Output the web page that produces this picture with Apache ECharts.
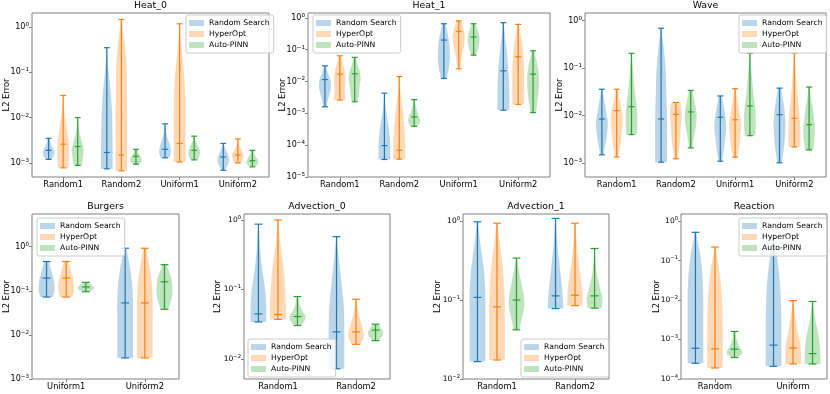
<!DOCTYPE html>
<html>
<head>
<meta charset="utf-8">
<script src="https://cdn.jsdelivr.net/npm/echarts@6/dist/echarts.min.js"></script>
<style>
html, body { margin: 0; padding: 0; background: #fff; }
#chart { width: 830px; height: 394px; }
</style>
</head>
<body>
<div id="chart"></div>
<script>
// methods / colours
var methods = ['Random Search', 'HyperOpt', 'Auto-PINN'];
var colors = ['#1f77b4', '#ff7f0e', '#2ca02c'];
var fills = ['rgba(31,119,180,0.3)', 'rgba(255,127,14,0.3)', 'rgba(44,160,44,0.3)'];
var offsets = [-0.25, 0, 0.25];

// each stats entry: [min, median, max] per group; one row per method
// each shape entry: relative width of the violin from min (first) to max (last)
var heat0Cats = ['Random1', 'Random2', 'Uniform1', 'Uniform2'];
var heat0Stats = [
  [[0.0012, 0.0019, 0.0035], [0.00074, 0.0017, 0.35], [0.0013, 0.002, 0.0073], [0.00069, 0.00135, 0.0027]],
  [[0.00078, 0.0026, 0.031], [0.00067, 0.0015, 1.47], [0.00105, 0.0027, 1.18], [0.001, 0.0015, 0.0034]],
  [[0.00088, 0.0023, 0.01], [0.00094, 0.0014, 0.002], [0.00117, 0.0019, 0.0039], [0.00082, 0.00112, 0.0019]]
];
var heat0Shape = [
  [[0.5, 0.9, 1, 0.8, 0.5, 0.3, 0.2], [1, 1, 0.95, 0.85, 0.6, 0.25, 0.05], [0.8, 1, 0.9, 0.6, 0.3, 0.15, 0.05], [0.3, 0.7, 1, 0.9, 0.6, 0.3, 0.1]],
  [[0.9, 1, 1, 0.7, 0.4, 0.15, 0.05], [1, 1, 1, 0.95, 0.9, 0.6, 0.1], [1, 1, 1, 0.95, 0.7, 0.3, 0.05], [0.6, 0.9, 1, 0.7, 0.35, 0.15, 0.05]],
  [[0.7, 0.9, 1, 0.7, 0.35, 0.15, 0.05], [0.5, 0.9, 1, 0.8, 0.5, 0.3, 0.2], [0.6, 0.9, 1, 0.8, 0.5, 0.2, 0.1], [0.5, 0.9, 1, 0.8, 0.5, 0.3, 0.15]]
];

var heat1Cats = ['Random1', 'Random2', 'Uniform1', 'Uniform2'];
var heat1Stats = [
  [[0.0016, 0.0115, 0.031], [0.0000355, 0.000097, 0.0043], [0.0124, 0.2, 0.65], [0.00125, 0.0215, 0.7]],
  [[0.0026, 0.017, 0.064], [0.0000363, 0.000069, 0.0143], [0.025, 0.37, 0.8], [0.0019, 0.06, 0.62]],
  [[0.0023, 0.0174, 0.057], [0.00039, 0.00077, 0.0027], [0.067, 0.25, 0.65], [0.00105, 0.017, 0.092]]
];
var heat1Shape = [
  [[0.3, 0.5, 0.8, 1, 0.9, 0.5, 0.2], [1, 1, 0.9, 0.7, 0.4, 0.15, 0.05], [0.5, 0.8, 1, 1, 0.9, 0.6, 0.3], [1, 1, 0.95, 0.8, 0.6, 0.3, 0.1]],
  [[1, 0.9, 0.9, 1, 0.8, 0.5, 0.2], [1, 1, 0.9, 0.7, 0.45, 0.2, 0.05], [0.2, 0.4, 0.6, 0.9, 1, 0.8, 0.4], [1, 1, 1, 0.95, 0.8, 0.5, 0.15]],
  [[0.5, 0.7, 0.8, 1, 0.9, 0.5, 0.2], [0.6, 1, 0.9, 0.6, 0.4, 0.2, 0.1], [0.4, 0.7, 0.9, 1, 0.9, 0.6, 0.3], [0.5, 0.7, 0.9, 1, 0.9, 0.6, 0.2]]
];

var waveCats = ['Random1', 'Random2', 'Uniform1', 'Uniform2'];
var waveStats = [
  [[0.0015, 0.0085, 0.036], [0.00105, 0.0085, 0.69], [0.0011, 0.0093, 0.026], [0.00102, 0.0105, 0.038]],
  [[0.00135, 0.0128, 0.036], [0.00124, 0.0107, 0.019], [0.00134, 0.0082, 0.037], [0.0022, 0.0088, 0.205]],
  [[0.004, 0.0155, 0.205], [0.0021, 0.012, 0.034], [0.0038, 0.016, 0.205], [0.0019, 0.0065, 0.04]]
];
var waveShape = [
  [[0.3, 0.6, 0.9, 1, 0.7, 0.4, 0.1], [1, 1, 1, 0.9, 0.8, 0.5, 0.1], [0.3, 0.6, 0.8, 1, 0.9, 0.6, 0.3], [0.4, 0.7, 0.9, 1, 0.9, 0.6, 0.3]],
  [[0.3, 0.6, 0.8, 1, 0.9, 0.5, 0.2], [0.3, 0.5, 0.7, 0.8, 0.9, 1, 0.8], [0.4, 0.7, 0.9, 1, 0.7, 0.4, 0.1], [1, 1, 0.9, 0.6, 0.4, 0.2, 0.05]],
  [[0.9, 1, 0.9, 0.6, 0.4, 0.2, 0.05], [0.3, 0.5, 0.8, 1, 0.9, 0.6, 0.3], [0.9, 1, 0.9, 0.6, 0.4, 0.2, 0.05], [0.7, 0.9, 1, 0.8, 0.6, 0.3, 0.1]]
];

var burgersCats = ['Uniform1', 'Uniform2'];
var burgersStats = [
  [[0.072, 0.194, 0.46], [0.003, 0.053, 0.92]],
  [[0.072, 0.194, 0.46], [0.003, 0.053, 0.92]],
  [[0.095, 0.122, 0.155], [0.038, 0.16, 0.39]]
];
var burgersShape = [
  [[0.8, 1, 1, 0.9, 0.7, 0.5, 0.3], [1, 1, 1, 1, 0.9, 0.6, 0.2]],
  [[0.8, 1, 1, 0.9, 0.7, 0.5, 0.3], [1, 1, 1, 1, 0.9, 0.6, 0.2]],
  [[0.4, 0.8, 1, 1, 0.8, 0.5, 0.3], [0.5, 0.8, 1, 1, 0.9, 0.6, 0.3]]
];

var adv0Cats = ['Random1', 'Random2'];
var adv0Stats = [
  [[0.034, 0.0445, 0.87], [0.0072, 0.0245, 0.575]],
  [[0.037, 0.0435, 1.0], [0.0162, 0.0245, 0.072]],
  [[0.0302, 0.0407, 0.079], [0.0183, 0.026, 0.0316]]
];
var adv0Shape = [
  [[1, 1, 0.85, 0.55, 0.3, 0.15, 0.05], [1, 1, 1, 0.9, 0.6, 0.3, 0.05]],
  [[1, 1, 0.9, 0.75, 0.45, 0.2, 0.05], [0.6, 1, 0.9, 0.6, 0.35, 0.2, 0.1]],
  [[0.5, 0.9, 1, 0.6, 0.35, 0.2, 0.1], [0.4, 0.7, 0.9, 1, 0.8, 0.6, 0.4]]
];

var adv1Cats = ['Random1', 'Random2'];
var adv1Stats = [
  [[0.0166, 0.108, 0.98], [0.078, 0.113, 1.08]],
  [[0.0174, 0.082, 0.94], [0.085, 0.115, 0.94]],
  [[0.042, 0.1, 0.34], [0.079, 0.113, 0.45]]
];
var adv1Shape = [
  [[1, 1, 1, 1, 0.8, 0.4, 0.1], [1, 0.9, 0.7, 0.5, 0.3, 0.15, 0.05]],
  [[1, 1, 1, 0.95, 0.75, 0.4, 0.1], [1, 0.95, 0.75, 0.5, 0.3, 0.15, 0.05]],
  [[0.4, 0.7, 1, 0.9, 0.6, 0.3, 0.1], [0.9, 1, 0.7, 0.4, 0.2, 0.1, 0.05]]
];

var reactionCats = ['Random', 'Uniform'];
var reactionStats = [
  [[0.00025, 0.0006, 0.52], [0.00021, 0.00072, 0.37]],
  [[0.00019, 0.00058, 0.22], [0.00024, 0.00061, 0.0097]],
  [[0.00035, 0.00057, 0.0016], [0.00024, 0.00044, 0.0092]]
];
var reactionShape = [
  [[1, 1, 1, 1, 0.9, 0.6, 0.1], [1, 1, 1, 0.95, 0.8, 0.5, 0.1]],
  [[1, 1, 1, 0.95, 0.8, 0.5, 0.1], [1, 1, 0.9, 0.6, 0.4, 0.2, 0.05]],
  [[0.4, 1, 0.8, 0.5, 0.3, 0.2, 0.1], [1, 1, 0.9, 0.7, 0.4, 0.2, 0.05]]
];

// panel layout: box = [left, top, right, bottom], yExp = log10 range of the y axis
var panels = [
  { title: 'Heat_0', cats: heat0Cats, stats: heat0Stats, shape: heat0Shape, box: [32, 13, 269, 177], yExp: [-3.31, 0.31], legend: [186, 15], nameGap: 21, font: 8 },
  { title: 'Heat_1', cats: heat1Cats, stats: heat1Stats, shape: heat1Shape, box: [308, 13, 550, 177], yExp: [-5, 0.15], legend: [313, 15], nameGap: 21, font: 8 },
  { title: 'Wave', cats: waveCats, stats: waveStats, shape: waveShape, box: [585, 13, 826, 177], yExp: [-3.29, 0.16], legend: [739, 15], nameGap: 21, font: 8 },
  { title: 'Burgers', cats: burgersCats, stats: burgersStats, shape: burgersShape, box: [32, 214, 179, 379], yExp: [-3, 0.74], legend: [37, 218], nameGap: 21, font: 8 },
  { title: 'Advection_0', cats: adv0Cats, stats: adv0Stats, shape: adv0Shape, box: [244, 214, 390, 379], yExp: [-2.29, 0.086], legend: [248, 339], nameGap: 22, font: 7.5 },
  { title: 'Advection_1', cats: adv1Cats, stats: adv1Stats, shape: adv1Shape, box: [463, 214, 609, 379], yExp: [-2, 0.09], legend: [521, 339], nameGap: 21, font: 7.5 },
  { title: 'Reaction', cats: reactionCats, stats: reactionStats, shape: reactionShape, box: [681, 214, 827, 379], yExp: [-4, 0.18], legend: [739, 218], nameGap: 20, font: 7.5 }
];

var FONT = 'DejaVu Sans';

var measureCtx = document.createElement('canvas').getContext('2d');
function textWidth(t, size) {
  measureCtx.font = size + 'px ' + FONT;
  return measureCtx.measureText(t).width;
}

// catmull-rom smoothing of a width profile -> [[t, w], ...]
function smoothProfile(p, sub) {
  var out = [], n = p.length;
  for (var i = 0; i < n - 1; i++) {
    var p0 = p[Math.max(i - 1, 0)], p1 = p[i], p2 = p[i + 1], p3 = p[Math.min(i + 2, n - 1)];
    for (var k = 0; k < sub; k++) {
      var t = k / sub, t2 = t * t, t3 = t2 * t;
      var w = 0.5 * (2 * p1 + (-p0 + p2) * t + (2 * p0 - 5 * p1 + 4 * p2 - p3) * t2 + (-p0 + 3 * p1 - 3 * p2 + p3) * t3);
      out.push([(i + t) / (n - 1), Math.max(w, 0.02)]);
    }
  }
  out.push([1, p[n - 1]]);
  return out;
}

function makeRender(panel, m) {
  return function (params, api) {
    var g = params.dataIndex;
    var x = api.value(0), vMin = api.value(1), vMed = api.value(2), vMax = api.value(3);
    var lo = Math.log10(vMin), hi = Math.log10(vMax);
    var cMin = api.coord([x, vMin]);
    var cMed = api.coord([x, vMed]);
    var cMax = api.coord([x, vMax]);
    var unit = api.coord([x + 1, vMin])[0] - cMin[0];
    var half = unit * 0.1, cap = unit * 0.05;
    var right = [], left = [];
    smoothProfile(panel.shape[m][g], 6).forEach(function (q) {
      var c = api.coord([x, Math.pow(10, lo + (hi - lo) * q[0])]);
      right.push([c[0] + q[1] * half, c[1]]);
      left.push([c[0] - q[1] * half, c[1]]);
    });
    var ls = { stroke: colors[m], lineWidth: 1.2 };
    function hline(c) {
      return { type: 'line', shape: { x1: c[0] - cap, y1: c[1], x2: c[0] + cap, y2: c[1] }, style: ls };
    }
    return {
      type: 'group',
      children: [
        { type: 'polygon', shape: { points: right.concat(left.reverse()) }, style: { fill: fills[m] } },
        { type: 'line', shape: { x1: cMin[0], y1: cMin[1], x2: cMax[0], y2: cMax[1] }, style: ls },
        hline(cMin), hline(cMed), hline(cMax)
      ]
    };
  };
}

var option = {
  animation: false,
  backgroundColor: '#fff',
  textStyle: { fontFamily: FONT },
  title: [], legend: [], grid: [], xAxis: [], yAxis: [], series: []
};

panels.forEach(function (p, i) {
  var b = p.box;
  var n = p.cats.length;
  var span = n - 1 + 0.7;
  var titleSize = 9.4;
  option.title.push({
    text: p.title,
    left: (b[0] + b[2]) / 2 - textWidth(p.title, titleSize) / 2,
    top: b[1] - 12,
    padding: 0,
    textStyle: { fontFamily: FONT, fontSize: titleSize, fontWeight: 'normal', color: '#000' }
  });
  option.grid.push({
    left: b[0], top: b[1], width: b[2] - b[0], height: b[3] - b[1],
    show: true, borderColor: '#808080', borderWidth: 1, backgroundColor: 'transparent'
  });
  var xTicks = p.cats.map(function (c, k) { return k + 1; });
  option.xAxis.push({
    type: 'value', gridIndex: i,
    min: 0.65 - 0.05 * span, max: n + 0.35 + 0.05 * span,
    axisLine: { show: false },
    splitLine: { show: false },
    axisTick: { show: true, customValues: xTicks, length: 3, lineStyle: { color: '#808080' } },
    axisLabel: {
      customValues: xTicks, margin: 4,
      fontFamily: FONT, fontSize: 8.3, color: '#000',
      formatter: function (v) { return p.cats[Math.round(v) - 1] || ''; }
    }
  });
  var yTicks = [];
  for (var e = Math.ceil(p.yExp[0] - 1e-9); e <= Math.floor(p.yExp[1] + 1e-9); e++) yTicks.push(Math.pow(10, e));
  option.yAxis.push({
    type: 'log', logBase: 10, gridIndex: i,
    min: Math.pow(10, p.yExp[0]), max: Math.pow(10, p.yExp[1]),
    name: 'L2 Error', nameLocation: 'middle', nameGap: p.nameGap, nameMoveOverlap: false,
    nameTextStyle: { fontFamily: FONT, fontSize: 8.4, color: '#000' },
    axisLine: { show: false },
    splitLine: { show: false },
    minorTick: { show: false },
    axisTick: { show: true, customValues: yTicks, length: 3, lineStyle: { color: '#808080' } },
    axisLabel: {
      customValues: yTicks, margin: 3,
      fontFamily: FONT, fontSize: p.font, color: '#000',
      formatter: function (v) { return '{b|10}{s|' + String(Math.round(Math.log10(v))).replace('-', '\u2212') + '}'; },
      rich: {
        b: { fontFamily: FONT, fontSize: p.font, color: '#000' },
        s: { fontFamily: FONT, fontSize: p.font * 0.7, color: '#000', padding: [0, 0, 5, 0] }
      }
    }
  });
  option.legend.push({
    orient: 'vertical', left: p.legend[0], top: p.legend[1],
    padding: [3, 4, 3, 3], itemGap: 1, itemWidth: 15, itemHeight: 6,
    backgroundColor: 'rgba(255,255,255,0.8)', borderColor: '#cccccc', borderWidth: 1, borderRadius: 2,
    selectedMode: false,
    textStyle: { fontFamily: FONT, fontSize: 7.7, color: '#000', lineHeight: 10 },
    data: methods.map(function (name, m) {
      return { name: name, icon: 'rect', itemStyle: { color: fills[m], borderWidth: 0 } };
    })
  });
  methods.forEach(function (name, m) {
    option.series.push({
      type: 'custom', name: name,
      xAxisIndex: i, yAxisIndex: i,
      itemStyle: { color: fills[m] },
      encode: { x: 0, y: [1, 2, 3] },
      renderItem: makeRender(p, m),
      data: p.stats[m].map(function (s, g) { return [g + 1 + offsets[m], s[0], s[1], s[2]]; })
    });
  });
});

var chart = echarts.init(document.getElementById('chart'), null, { renderer: 'canvas' });
chart.setOption(option);
</script>
</body>
</html>
